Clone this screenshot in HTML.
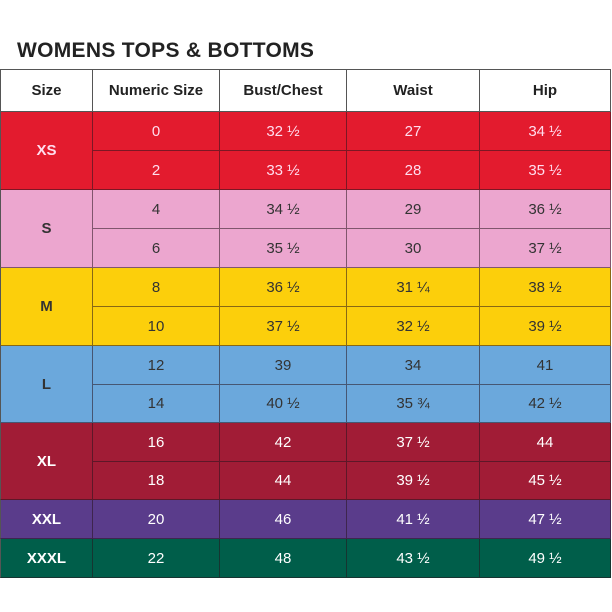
<!DOCTYPE html>
<html><head><style>
body{margin:0;width:612px;height:612px;background:#fff;font-family:"Liberation Sans",sans-serif;position:relative;overflow:hidden}
.t{position:absolute;left:17px;top:39px;font-size:21px;font-weight:bold;color:#222;letter-spacing:0.3px}
.c{position:absolute;box-sizing:border-box;display:flex;align-items:center;justify-content:center;font-size:15px;border-right:1px solid rgba(40,20,30,.55);border-bottom:1px solid rgba(40,20,30,.55)}
.h{font-weight:bold;color:#222;background:#fff;border-color:#555}
.b{font-weight:bold}
</style></head><body>
<div class="t">WOMENS TOPS &amp; BOTTOMS</div>
<script>
var X=[0,93,220,347,480,611];
function cell(x0,x1,y0,y1,txt,bg,col,cls){var d=document.createElement('div');d.className='c '+(cls||'');d.style.left=X[x0]+'px';d.style.width=(X[x1]-X[x0])+'px';d.style.top=y0+'px';d.style.height=(y1-y0)+'px';if(bg)d.style.background=bg;if(col)d.style.color=col;d.innerHTML=txt;if(x0==0)d.style.borderLeft='1px solid #555';document.body.appendChild(d);}
var hd=['Size','Numeric Size','Bust/Chest','Waist','Hip'];
for(var i=0;i<5;i++){cell(i,i+1,69,112,hd[i],null,null,'h');}
document.querySelectorAll('.h').forEach(function(e){e.style.borderTop='1px solid #555'});
var Y=[112,151,190,229,268,307,346,385,423,462,500,539,578];
var g=[
['XS','#e31b2e','#fde',[['0','32 ½','27','34 ½'],['2','33 ½','28','35 ½']]],
['S','#eca6cf','#333',[['4','34 ½','29','36 ½'],['6','35 ½','30','37 ½']]],
['M','#fccf0b','#333',[['8','36 ½','31 ¼','38 ½'],['10','37 ½','32 ½','39 ½']]],
['L','#6ba8dc','#333',[['12','39','34','41'],['14','40 ½','35 ¾','42 ½']]],
['XL','#a11c36','#fff',[['16','42','37 ½','44'],['18','44','39 ½','45 ½']]],
['XXL','#5a3c8b','#fff',[['20','46','41 ½','47 ½']]],
['XXXL','#005e4a','#fff',[['22','48','43 ½','49 ½']]]];
var ri=0;
g.forEach(function(r){var n=r[3].length;cell(0,1,Y[ri],Y[ri+n],r[0],r[1],r[2],'b');
r[3].forEach(function(row,k){for(var j=0;j<4;j++)cell(j+1,j+2,Y[ri+k],Y[ri+k+1],row[j],r[1],r[2]);});
ri+=n;});
</script>
</body></html>
